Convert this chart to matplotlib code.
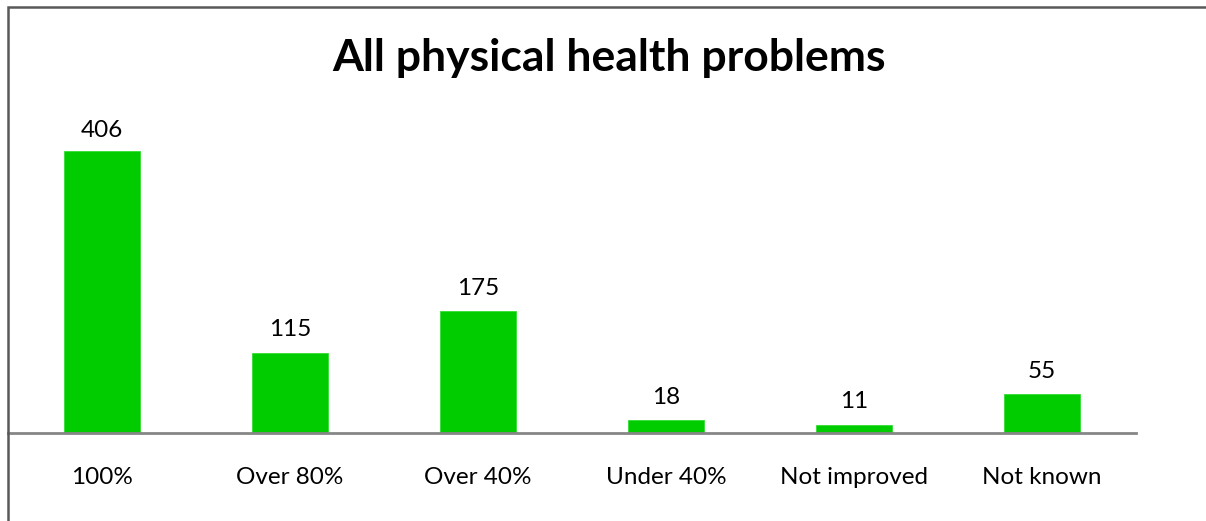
import matplotlib
matplotlib.use("Agg")
import matplotlib.pyplot as plt
from matplotlib.patches import Rectangle

categories = ["100%", "Over 80%", "Over 40%", "Under 40%", "Not improved", "Not known"]
values = [406, 115, 175, 18, 11, 55]
title = "All physical health problems"

plt.rcParams['font.family'] = ['Lato', 'DejaVu Sans']

W, H = 1206, 521
fig = plt.figure(figsize=(W / 100, H / 100), dpi=100)

# outer chart border (top and left visible)
fig.add_artist(Rectangle((7.5 / W, -0.1), 1.2, 1 - 7 / H + 0.1, transform=fig.transFigure,
                         fill=False, edgecolor="#595959", linewidth=1.8))

ax_left, ax_right = 8 / W, 1136 / W
ax_bottom = 1 - 432.5 / H
ax_top = 1 - 120 / H
ax = fig.add_axes([ax_left, ax_bottom, ax_right - ax_left, ax_top - ax_bottom])

x = list(range(len(categories)))
ax.bar(x, values, width=0.4, color="#00CC00", edgecolor="#33DD33", linewidth=0.6, zorder=2)
ax.set_xlim(-0.5, len(categories) - 0.5)
ymax = 406 * (432.5 - 120) / (432.5 - 151)
ax.set_ylim(0, ymax)

px_per_unit = (432.5 - 120) / ymax
for xi, v in zip(x, values):
    room_px = (ymax - v) * px_per_unit
    if room_px < 38:
        # keep label inside the plot area (like Excel does)
        ax.annotate(str(v), (xi, ymax), xytext=(0, 0), textcoords="offset points",
                    ha="center", va="top", fontsize=17.5, color="#000000")
    else:
        ax.annotate(str(v), (xi, v), xytext=(0, 9), textcoords="offset points",
                    ha="center", va="bottom", fontsize=17.5, color="#000000")

for s in ["top", "right", "left"]:
    ax.spines[s].set_visible(False)
ax.spines["bottom"].set_color("#868686")
ax.spines["bottom"].set_linewidth(2)
ax.set_yticks([])
ax.set_xticks(x)
ax.set_xticklabels(categories, fontsize=17.5)
ax.tick_params(axis="x", length=0, pad=25)

fig.text(609 / W, 1 - 58 / H, title, ha="center", va="center", fontsize=32,
         fontweight="bold", color="#000000")

fig.savefig("out.png", dpi=100)
